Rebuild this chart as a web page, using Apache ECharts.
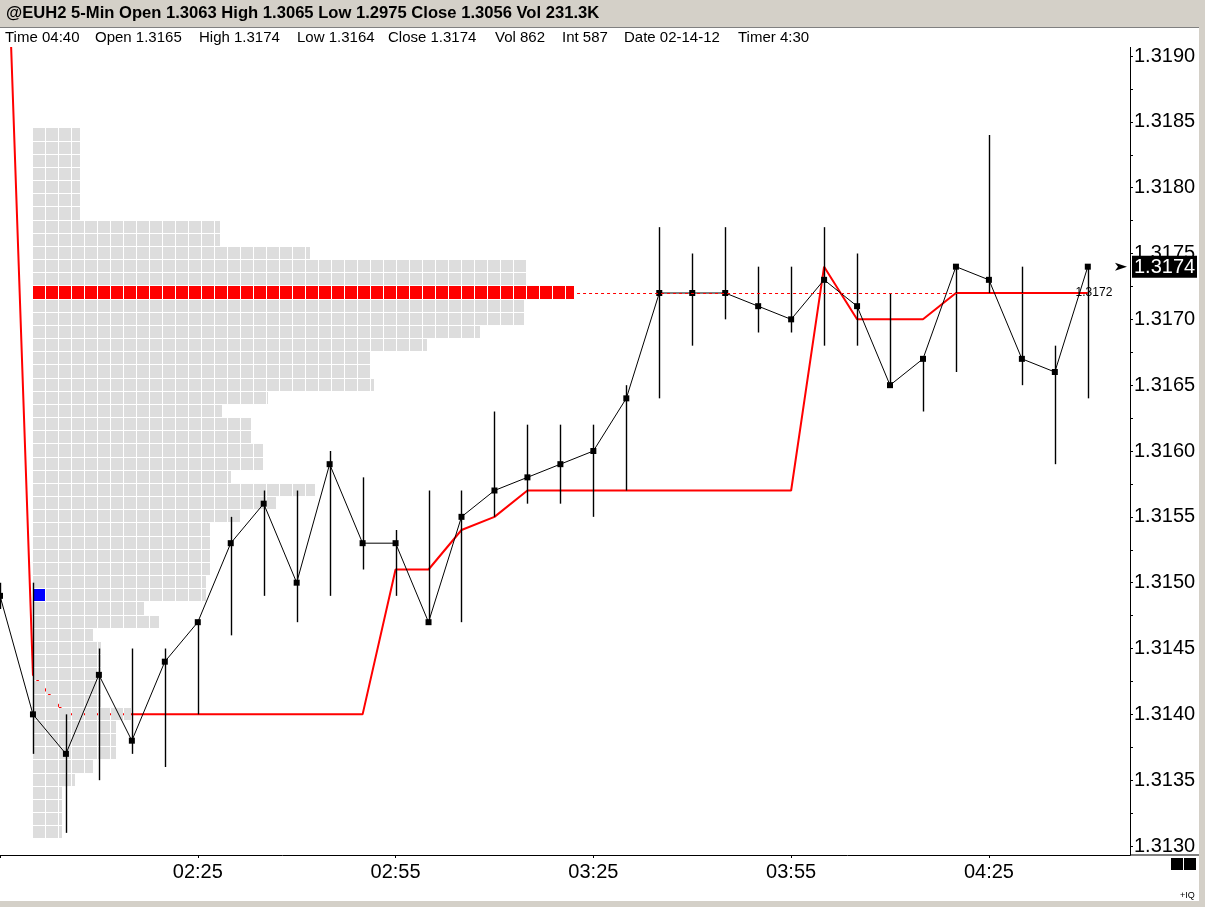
<!DOCTYPE html>
<html lang="en">
<head>
    <meta charset="utf-8">
    <title>@EUH2 5-Min</title>
    <script src="https://cdn.jsdelivr.net/npm/echarts@6/dist/echarts.min.js"></script>
    <style>
        html, body { margin: 0; padding: 0; background: #fff; }
        #main { width: 1205px; height: 907px; }
    </style>
</head>
<body>
<div id="main"></div>

<script type="text/javascript">

    // bar times (5 min)
    var times = ['01:55','02:00','02:05','02:10','02:15','02:20','02:25','02:30','02:35','02:40',
                 '02:45','02:50','02:55','03:00','03:05','03:10','03:15','03:20','03:25','03:30',
                 '03:35','03:40','03:45','03:50','03:55','04:00','04:05','04:10','04:15','04:20',
                 '04:25','04:30','04:35','04:40'];

    var highs = [1.3150,1.3150,1.3140,1.3145,1.3145,1.3145,1.3147,1.3155,1.3157,1.3157,
                 1.3160,1.3158,1.3154,1.3157,1.3157,1.3163,1.3162,1.3162,1.3162,1.3165,
                 1.3177,1.3175,1.3177,1.3174,1.3174,1.3177,1.3175,1.3172,1.3167,1.3174,
                 1.3184,1.3174,1.3168,1.3174];

    var lows  = [1.3148,1.3137,1.3131,1.3135,1.3137,1.3136,1.3140,1.3146,1.3149,1.3147,
                 1.3149,1.3151,1.3149,1.3147,1.3147,1.3155,1.3156,1.3156,1.3155,1.3157,
                 1.3164,1.3168,1.3170,1.3169,1.3169,1.3168,1.3168,1.3165,1.3163,1.3166,
                 1.3172,1.3165,1.3159,1.3164];

    var closes = [1.3149,1.3140,1.3137,1.3143,1.3138,1.3144,1.3147,1.3153,1.3156,1.3150,
                  1.3159,1.3153,1.3153,1.3147,1.3155,1.3157,1.3158,1.3159,1.3160,1.3164,
                  1.3172,1.3172,1.3172,1.3171,1.3170,1.3173,1.3171,1.3165,1.3167,1.3174,
                  1.3173,1.3167,1.3166,1.3174];

    // red stop line
    var stops = [1.3215,1.3143,1.3140,1.3140,1.3140,1.3140,1.3140,1.3140,1.3140,1.3140,
                 1.3140,1.3140,1.3151,1.3151,1.3154,1.3155,1.3157,1.3157,1.3157,1.3157,
                 1.3157,1.3157,1.3157,1.3157,1.3157,1.3174,1.3170,1.3170,1.3170,1.3172,
                 1.3172,1.3172,1.3172,1.3172];

    // volume profile: price levels and width of each row (in boxes)
    var profilePrices = [1.3184,1.3183,1.3182,1.3181,1.3180,1.3179,1.3178,1.3177,1.3176,1.3175,
                         1.3174,1.3173,1.3172,1.3171,1.3170,1.3169,1.3168,1.3167,1.3166,1.3165,
                         1.3164,1.3163,1.3162,1.3161,1.3160,1.3159,1.3158,1.3157,1.3156,1.3155,
                         1.3154,1.3153,1.3152,1.3151,1.3150,1.3149,1.3148,1.3147,1.3146,1.3145,
                         1.3144,1.3143,1.3142,1.3141,1.3140,1.3139,1.3138,1.3137,1.3136,1.3135,
                         1.3134,1.3133,1.3132,1.3131];
    var profileBoxes  = [3.6,3.6,3.6,3.6,3.6,3.6,3.6,14.4,14.4,21.3,
                         37.9,37.9,41.6,37.8,37.8,34.4,30.3,25.9,25.9,26.2,
                         18.1,14.5,16.8,16.8,17.7,17.7,15.2,21.7,18.7,16.0,
                         13.6,13.6,13.6,13.6,13.3,13.3,8.5,9.7,4.6,5.2,
                         5.2,5.2,5.2,5.2,7.5,6.4,6.4,6.4,4.6,3.2,
                         2.2,2.2,2.2,2.2];
    var sessionOpen = 1.3149;

    var yTicks = [1.3130,1.3135,1.3140,1.3145,1.3150,1.3155,1.3160,1.3165,1.3170,1.3175,1.3180,1.3185,1.3190];
    var yMinorTicks = [1.31325,1.31375,1.31425,1.31475,1.31525,1.31575,1.31625,1.31675,1.31725,1.31775,1.31825,1.31875];

    var titleText = '@EUH2 5-Min Open 1.3063 High 1.3065 Low 1.2975 Close 1.3056 Vol 231.3K';
    var infoItems = ['Time 04:40','Open 1.3165','High 1.3174','Low 1.3164','Close 1.3174',
                     'Vol 862','Int 587','Date 02-14-12','Timer 4:30'];


    // minutes since 01:55
    function toMin(t) {
        var p = t.split(':');
        return (+p[0]) * 60 + (+p[1]) - 115;
    }
    function fmtMin(v) {
        var m = v + 115;
        var h = Math.floor(m / 60), mm = m % 60;
        return (h < 10 ? '0' : '') + h + ':' + (mm < 10 ? '0' : '') + mm;
    }

    var stopData  = times.map(function (t, i) { return [toMin(t), stops[i]]; });
    var closeData = times.map(function (t, i) { return [toMin(t), closes[i]]; });
    var hlData    = times.map(function (t, i) { return [toMin(t), highs[i], lows[i]]; });
    var profData  = profilePrices.map(function (p, i) { return [profileBoxes[i], p]; });

    var pocIdx = 0;
    profileBoxes.forEach(function (w, i) { if (w > profileBoxes[pocIdx]) pocIdx = i; });
    var poc = profilePrices[pocIdx];

    var FONT = 'Liberation Sans, Arial, sans-serif';
    var myChart = echarts.init(document.getElementById('main'));

    myChart.setOption({
        animation: false,
        backgroundColor: '#ffffff',
        grid: { left: 0, right: 75, top: 47, bottom: 52, outerBoundsMode: 'none', containLabel: false },
        xAxis: [{
            type: 'value',
            min: 0,
            max: 171.4,
            interval: 30,
            splitLine: { show: false },
            axisLine: { show: true, onZero: false, lineStyle: { color: '#000', width: 1 } },
            axisTick: { show: true, length: 3, lineStyle: { color: '#000' } },
            axisLabel: {
                showMaxLabel: false,
                margin: 7,
                color: '#000',
                fontSize: 20,
                fontFamily: FONT,
                formatter: function (v) { return v === 0 ? '' : fmtMin(v); }
            }
        }, {
            // profile boxes: one unit = one box
            type: 'value',
            show: false,
            min: -33 / 13,
            max: (1130 - 33) / 13
        }],
        yAxis: {
            type: 'value',
            position: 'right',
            min: 1.3190 - 799 / 131670,
            max: 1.3190 + 9 / 131670,
            scale: true,
            splitLine: { show: false },
            axisLine: { show: true, onZero: false, lineStyle: { color: '#000', width: 1 } },
            axisTick: {
                show: true, length: 3, lineStyle: { color: '#000' },
                customValues: yTicks.concat(yMinorTicks)
            },
            axisLabel: {
                margin: 4,
                color: '#000',
                fontSize: 20,
                fontFamily: FONT,
                customValues: yTicks,
                formatter: function (v) { return v.toFixed(4); }
            }
        },
        series: [{
            name: 'stop',
            type: 'line',
            data: stopData,
            showSymbol: false,
            symbol: 'none',
            z: 1,
            lineStyle: { color: '#ff0000', width: 2 }
        }, {
            name: 'profile',
            type: 'custom',
            xAxisIndex: 1,
            z: 2,
            data: profData,
            renderItem: function (params, api) {
                var w = api.value(0), p = api.value(1);
                var top = api.coord([0, p + 0.00005])[1];
                var bot = api.coord([0, p - 0.00005])[1];
                var isPoc = Math.abs(p - poc) < 1e-7;
                var kids = [];
                for (var k = 0; k < w; k++) {
                    var x0 = api.coord([k, p])[0];
                    var x1 = api.coord([Math.min(k + 1, w), p])[0];
                    var fill = isPoc ? '#ff0000' : '#dddddd';
                    if (k === 0 && Math.abs(p - sessionOpen) < 1e-7) fill = '#0000ff';
                    kids.push({
                        type: 'rect',
                        shape: { x: Math.round(x0), y: Math.round(top), width: Math.round(x1) - Math.round(x0) - (k + 1 <= w ? 1 : 0), height: Math.round(bot) - Math.round(top) - 1 },
                        style: { fill: fill }
                    });
                }
                return { type: 'group', children: kids };
            },
            markLine: {
                silent: true,
                symbol: 'none',
                lineStyle: { color: '#ff0000', type: [3, 3], width: 1 },
                label: { show: true, position: 'end', distance: 0, color: '#000', fontSize: 12, fontFamily: FONT, formatter: poc.toFixed(4) },
                data: [[{ coord: [profileBoxes[pocIdx] + 0.25, poc] }, { coord: [80.2, poc] }]]
            }
        }, {
            name: 'hl',
            type: 'custom',
            z: 3,
            data: hlData,
            renderItem: function (params, api) {
                var a = api.coord([api.value(0), api.value(1)]);
                var b = api.coord([api.value(0), api.value(2)]);
                var x = Math.round(a[0]) + 0.5;
                return {
                    type: 'line',
                    shape: { x1: x, y1: a[1], x2: x, y2: b[1] },
                    style: { stroke: '#000', lineWidth: 1.4 }
                };
            }
        }, {
            name: 'close',
            type: 'line',
            data: closeData,
            z: 4,
            symbol: 'rect',
            symbolSize: 6,
            itemStyle: { color: '#000' },
            lineStyle: { color: '#000', width: 1 }
        }]
    });

    // header, price flag and window details
    var lastY = myChart.convertToPixel({ yAxisIndex: 0 }, closes[closes.length - 1]);
    var infoX = [5, 95, 199, 297, 388, 495, 562, 624, 738];

    var gfx = [
        { type: 'rect', z: 100, shape: { x: 0, y: 0, width: 1205, height: 28 }, style: { fill: '#d4d0c8' } },
        { type: 'rect', z: 100, shape: { x: 0, y: 27, width: 1205, height: 1 }, style: { fill: '#808080' } },
        { type: 'rect', z: 100, shape: { x: 0, y: 28, width: 1199, height: 19 }, style: { fill: '#ffffff' } },
        { type: 'text', z: 101, x: 6, y: 13, style: { text: titleText, font: 'bold 16.6px ' + FONT, fill: '#000', textVerticalAlign: 'middle' } },
        { type: 'rect', z: 100, shape: { x: 1199, y: 0, width: 6, height: 907 }, style: { fill: '#d4d0c8' } },
        { type: 'rect', z: 100, shape: { x: 0, y: 901, width: 1205, height: 6 }, style: { fill: '#d4d0c8' } },
        { type: 'rect', z: 100, shape: { x: 1130, y: 854.5, width: 69, height: 1 }, style: { fill: '#000' } },
        { type: 'rect', z: 100, shape: { x: 1171, y: 858, width: 12, height: 12 }, style: { fill: '#000' } },
        { type: 'rect', z: 100, shape: { x: 1184, y: 858, width: 12, height: 12 }, style: { fill: '#000' } },
        { type: 'text', z: 101, x: 1180, y: 896, style: { text: '+IQ', font: '9px ' + FONT, fill: '#000', textVerticalAlign: 'middle' } },
        { type: 'rect', z: 100, shape: { x: 1132, y: lastY - 11, width: 65, height: 22 }, style: { fill: '#000' } },
        { type: 'text', z: 101, x: 1134, y: lastY + 1, style: { text: closes[closes.length - 1].toFixed(4), font: '20px ' + FONT, fill: '#fff', textVerticalAlign: 'middle' } },
        { type: 'polygon', z: 101, shape: { points: [[1115, lastY - 4], [1127, lastY], [1115, lastY + 4], [1118, lastY]] }, style: { fill: '#000' } }
    ];
    infoItems.forEach(function (s, i) {
        gfx.push({ type: 'text', z: 101, x: infoX[i], y: 38, style: { text: s, font: '15px ' + FONT, fill: '#000', textVerticalAlign: 'middle' } });
    });
    myChart.setOption({ graphic: gfx });

</script>
</body>
</html>
